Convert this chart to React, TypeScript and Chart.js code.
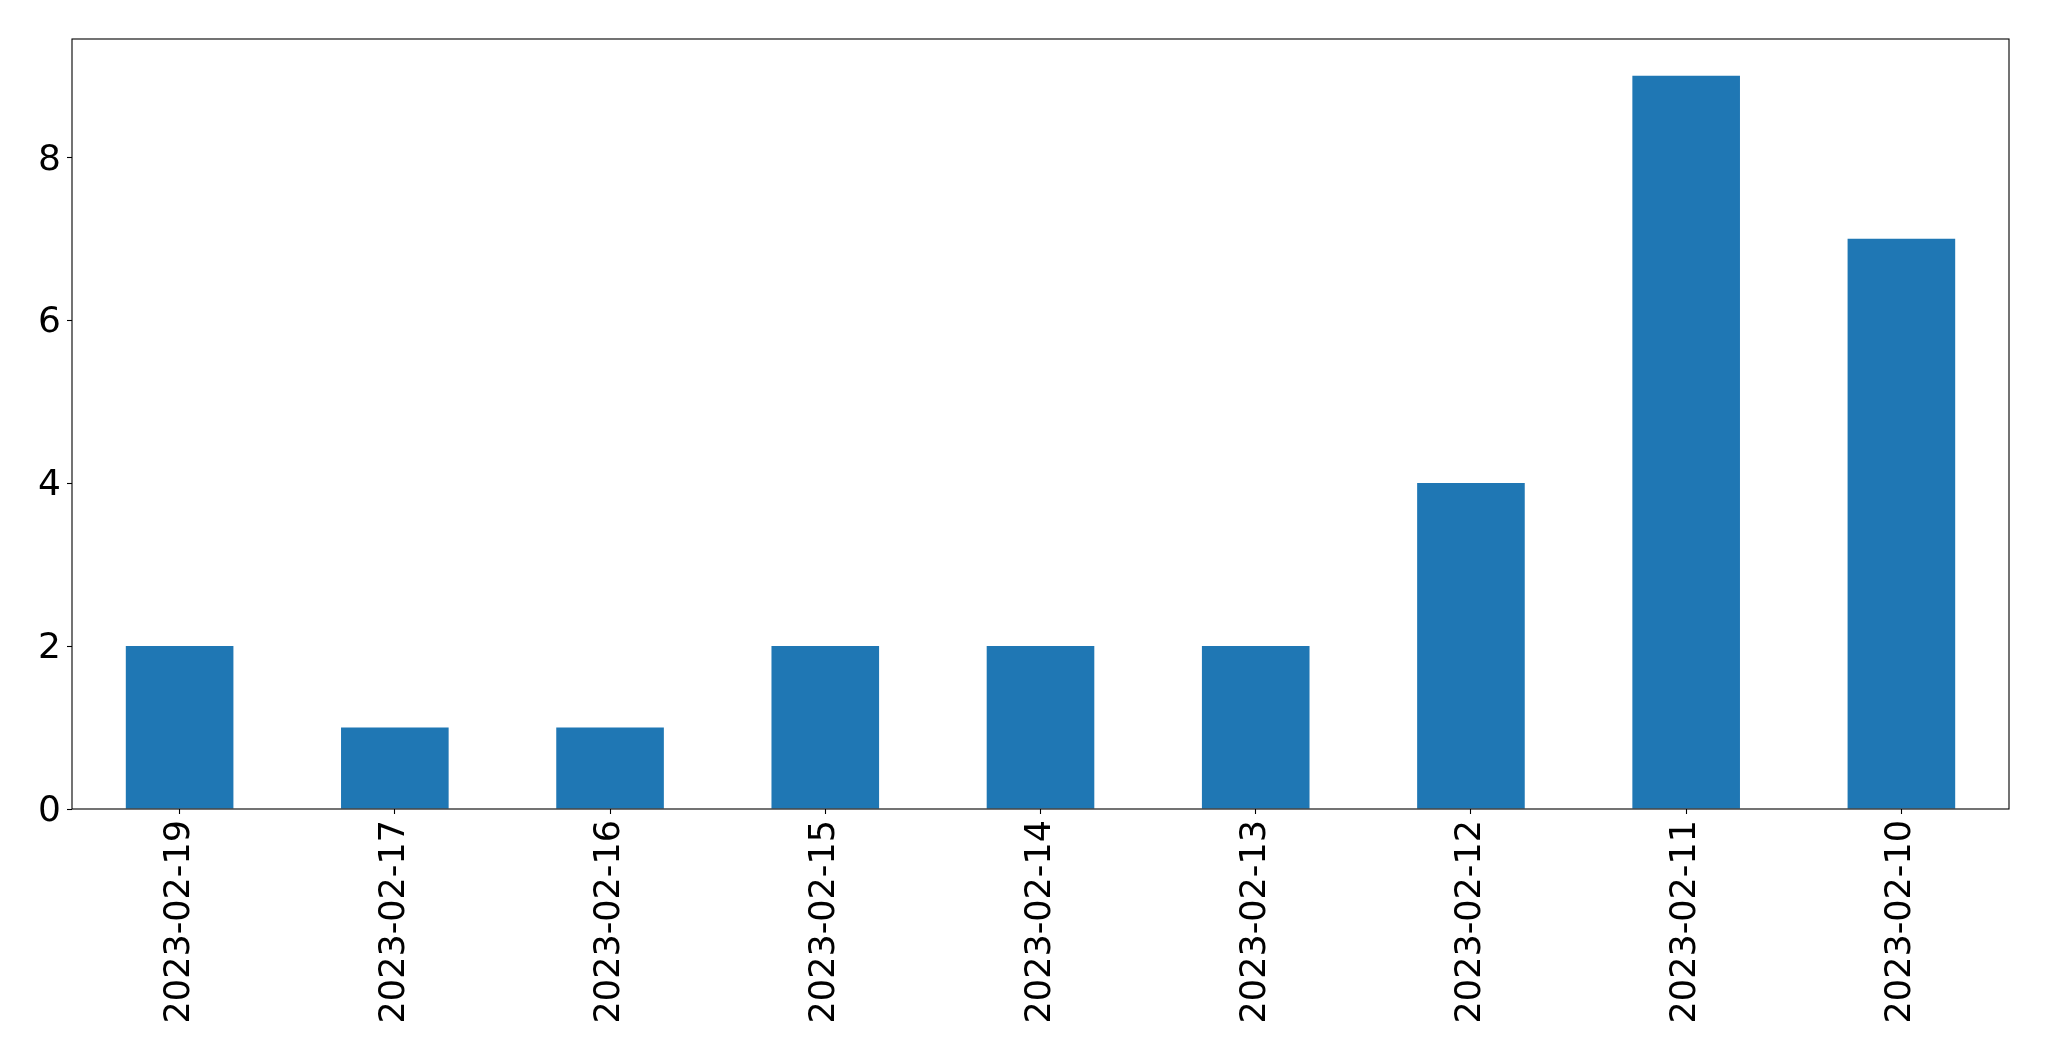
import React, { useEffect, useRef } from "react";
import { Chart, registerables } from "chart.js";

Chart.register(...registerables);

const categories: string[] = [
  "2023-02-19",
  "2023-02-17",
  "2023-02-16",
  "2023-02-15",
  "2023-02-14",
  "2023-02-13",
  "2023-02-12",
  "2023-02-11",
  "2023-02-10",
];
const counts: number[] = [2, 1, 1, 2, 2, 2, 4, 9, 7];
const yTicks: number[] = [0, 2, 4, 6, 8];
const yMax = 9.45;

const W = 2049;
const H = 1061;
const PLOT_LEFT = 72;
const PLOT_TOP = 39;
const PLOT_RIGHT = 2009;
const PLOT_BOTTOM = 809;

const FONT_Y = { family: "'DejaVu Sans', sans-serif", size: 36 };
const FONT_X = { family: "'DejaVu Sans', sans-serif", size: 35 };

const frame = {
  id: "frame",
  afterDatasetsDraw(chart: any) {
    const { ctx, chartArea } = chart;
    ctx.save();
    ctx.strokeStyle = "#000";
    ctx.lineWidth = 1.1;
    ctx.strokeRect(
      chartArea.left,
      chartArea.top,
      chartArea.right - chartArea.left,
      chartArea.bottom - chartArea.top
    );
    ctx.restore();
  },
};

export default function App() {
  const ref = useRef<HTMLCanvasElement | null>(null);
  useEffect(() => {
    if (!ref.current) return;
    const chart = new Chart(ref.current, {
      type: "bar",
      data: {
        labels: categories,
        datasets: [
          {
            data: counts,
            backgroundColor: "#1f77b4",
            borderWidth: 0,
            categoryPercentage: 1,
            barPercentage: 0.5,
          },
        ],
      },
      options: {
        animation: false,
        responsive: true,
        maintainAspectRatio: false,
        devicePixelRatio: 1,
        layout: {
          padding: { left: 0, top: PLOT_TOP, right: W - PLOT_RIGHT, bottom: 0 },
        },
        plugins: {
          legend: { display: false },
          tooltip: { enabled: false },
          title: { display: false },
        },
        scales: {
          x: {
            type: "category",
            offset: true,
            border: { display: false },
            grid: {
              display: true,
              offset: false,
              drawOnChartArea: false,
              drawTicks: true,
              tickLength: 5,
              tickColor: "#000",
              tickWidth: 1.1,
              color: "#000",
            },
            ticks: {
              font: FONT_X,
              color: "#000",
              minRotation: 90,
              maxRotation: 90,
              autoSkip: false,
              padding: 6,
              labelOffset: 0,
            },
            afterFit: (scale: any) => {
              scale.height = H - PLOT_BOTTOM;
            },
          },
          y: {
            type: "linear",
            min: 0,
            max: yMax,
            border: { display: false },
            grid: {
              display: true,
              drawOnChartArea: false,
              drawTicks: true,
              tickLength: 5,
              tickColor: "#000",
              tickWidth: 1.1,
              color: "#000",
            },
            ticks: {
              font: FONT_Y,
              color: "#000",
              padding: 6,
              includeBounds: false,
              stepSize: 2,
              labelOffset: 3,
            },
            afterBuildTicks: (scale: any) => {
              scale.ticks = yTicks.map((v) => ({ value: v }));
            },
            afterFit: (scale: any) => {
              scale.width = PLOT_LEFT;
            },
          },
        },
      },
      plugins: [frame],
    });
    return () => chart.destroy();
  }, []);

  return (
    <div
      style={{
        position: "fixed",
        left: 0,
        top: 0,
        width: W,
        height: H,
        background: "#fff",
      }}
    >
      <canvas ref={ref} />
    </div>
  );
}
